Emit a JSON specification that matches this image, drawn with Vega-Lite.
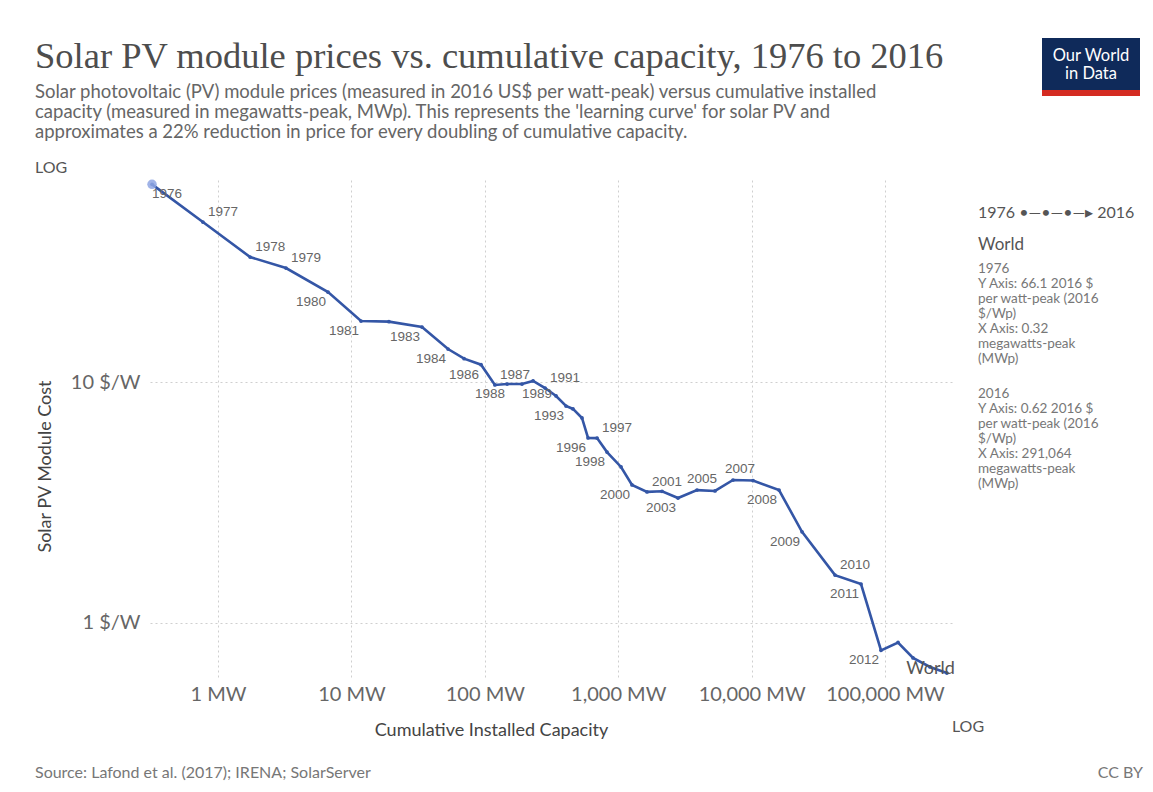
{
  "$schema": "https://vega.github.io/schema/vega-lite/v6.json",
  "width": 805,
  "height": 500,
  "autosize": "none",
  "padding": {"left": 150, "top": 180, "right": 198, "bottom": 112},
  "background": "white",
  "title": {
    "text": "Solar PV module prices vs. cumulative capacity, 1976 to 2016",
    "subtitle": [
      "Solar photovoltaic (PV) module prices (measured in 2016 US$ per watt-peak) versus cumulative installed",
      "capacity (measured in megawatts-peak, MWp). This represents the 'learning curve' for solar PV and",
      "approximates a 22% reduction in price for every doubling of cumulative capacity."
    ],
    "anchor": "start",
    "frame": "bounds",
    "offset": -103,
    "font": "Liberation Serif",
    "fontSize": 36.5,
    "fontWeight": "normal",
    "color": "#4d4d4d",
    "subtitleFont": "Lato",
    "subtitleFontSize": 18.5,
    "subtitleColor": "#666666",
    "subtitleLineHeight": 20,
    "subtitlePadding": 7
  },
  "data": {
    "values": [
      {"Year": 1976, "Capacity": 0.32, "Price": 66.1},
      {"Year": 1977, "Capacity": 0.77, "Price": 46.1},
      {"Year": 1978, "Capacity": 1.74, "Price": 33.0},
      {"Year": 1979, "Capacity": 3.23, "Price": 29.7},
      {"Year": 1980, "Capacity": 6.68, "Price": 23.6},
      {"Year": 1981, "Capacity": 11.8, "Price": 17.9},
      {"Year": 1982, "Capacity": 19.1, "Price": 17.8},
      {"Year": 1983, "Capacity": 33.8, "Price": 16.9},
      {"Year": 1984, "Capacity": 53.0, "Price": 13.7},
      {"Year": 1985, "Capacity": 69.9, "Price": 12.5},
      {"Year": 1986, "Capacity": 93.7, "Price": 11.8},
      {"Year": 1987, "Capacity": 119, "Price": 9.72},
      {"Year": 1988, "Capacity": 147, "Price": 9.81},
      {"Year": 1989, "Capacity": 190, "Price": 9.81},
      {"Year": 1990, "Capacity": 230, "Price": 10.1},
      {"Year": 1991, "Capacity": 283, "Price": 9.44},
      {"Year": 1992, "Capacity": 342, "Price": 8.75},
      {"Year": 1993, "Capacity": 406, "Price": 7.95},
      {"Year": 1994, "Capacity": 458, "Price": 7.73},
      {"Year": 1995, "Capacity": 535, "Price": 7.09},
      {"Year": 1996, "Capacity": 594, "Price": 5.86},
      {"Year": 1997, "Capacity": 694, "Price": 5.85},
      {"Year": 1998, "Capacity": 824, "Price": 5.12},
      {"Year": 1999, "Capacity": 1050, "Price": 4.44},
      {"Year": 2000, "Capacity": 1269, "Price": 3.74},
      {"Year": 2001, "Capacity": 1644, "Price": 3.50},
      {"Year": 2002, "Capacity": 2130, "Price": 3.52},
      {"Year": 2003, "Capacity": 2807, "Price": 3.30},
      {"Year": 2004, "Capacity": 3896, "Price": 3.56},
      {"Year": 2005, "Capacity": 5316, "Price": 3.53},
      {"Year": 2006, "Capacity": 7254, "Price": 3.92},
      {"Year": 2007, "Capacity": 10245, "Price": 3.90},
      {"Year": 2008, "Capacity": 16048, "Price": 3.56},
      {"Year": 2009, "Capacity": 23868, "Price": 2.39},
      {"Year": 2010, "Capacity": 42190, "Price": 1.58},
      {"Year": 2011, "Capacity": 66090, "Price": 1.45},
      {"Year": 2012, "Capacity": 93330, "Price": 0.77},
      {"Year": 2013, "Capacity": 125200, "Price": 0.83},
      {"Year": 2014, "Capacity": 162200, "Price": 0.716},
      {"Year": 2015, "Capacity": 217500, "Price": 0.657},
      {"Year": 2016, "Capacity": 291064, "Price": 0.62}
    ]
  },
  "layer": [
    {
      "encoding": {
        "x": {
          "field": "Capacity",
          "type": "quantitative",
          "scale": {"type": "log", "domain": [0.309, 334700], "nice": false},
          "axis": {
            "values": [1, 10, 100, 1000, 10000, 100000],
            "labelExpr": "format(datum.value, ',') + ' MW'",
            "title": "Cumulative Installed Capacity",
            "labelFlush": false,
            "labelOverlap": false,
            "labelPadding": 4,
            "titleX": 341,
            "titleY": 50,
            "titleAlign": "center",
            "titleBaseline": "middle"
          }
        },
        "y": {
          "field": "Price",
          "type": "quantitative",
          "scale": {"type": "log", "domain": [0.58, 68.9], "nice": false},
          "axis": {
            "values": [1, 10],
            "labelExpr": "datum.value + ' $/W'",
            "title": "Solar PV Module Cost",
            "labelPadding": 10,
            "titleX": -105,
            "titleY": 286,
            "titleAlign": "center",
            "titleBaseline": "middle"
          }
        }
      },
      "layer": [
        {
          "mark": {
            "type": "line",
            "color": "#3456a6",
            "strokeWidth": 2.6,
            "point": {"filled": true, "size": 14, "color": "#3456a6"}
          },
          "encoding": {"order": {"field": "Year", "type": "quantitative"}}
        },
        {
          "transform": [{"filter": "datum.Year == 1976"}],
          "mark": {"type": "circle", "size": 90, "color": "#8fa6e3", "opacity": 0.85}
        },
        {
          "transform": [{"filter": {"field": "Year", "oneOf": [1977, 1978, 1979, 1987, 1991, 1997, 2001, 2010]}}],
          "mark": {"type": "text", "align": "left", "baseline": "middle", "dx": 5, "dy": -10, "font": "Liberation Sans", "fontSize": 13.5, "color": "#666666"},
          "encoding": {"text": {"field": "Year", "type": "nominal"}}
        },
        {
          "transform": [{"filter": {"field": "Year", "oneOf": [1980, 1981, 1983, 1984, 1986, 1988, 1993, 1996, 1998, 2000, 2003, 2008, 2009, 2011, 2012]}}],
          "mark": {"type": "text", "align": "right", "baseline": "middle", "dx": -2, "dy": 10, "font": "Liberation Sans", "fontSize": 13.5, "color": "#666666"},
          "encoding": {"text": {"field": "Year", "type": "nominal"}}
        },
        {
          "transform": [{"filter": {"field": "Year", "oneOf": [2005, 2007]}}],
          "mark": {"type": "text", "align": "right", "baseline": "middle", "dx": 2, "dy": -12, "font": "Liberation Sans", "fontSize": 13.5, "color": "#666666"},
          "encoding": {"text": {"field": "Year", "type": "nominal"}}
        },
        {
          "transform": [{"filter": {"field": "Year", "oneOf": [1976, 1989]}}],
          "mark": {"type": "text", "align": "left", "baseline": "middle", "dx": 0, "dy": 10, "font": "Liberation Sans", "fontSize": 13.5, "color": "#666666"},
          "encoding": {"text": {"field": "Year", "type": "nominal"}}
        },
        {
          "transform": [{"filter": "datum.Year == 2016"}],
          "mark": {"type": "text", "align": "right", "baseline": "middle", "dx": 8, "dy": -4, "font": "Lato", "fontSize": 18, "color": "#555555"},
          "encoding": {"text": {"value": "World"}}
        }
      ]
    },
    {
      "data": {"values": [{}]},
      "layer": [
        {"mark": {"type": "rect", "x": 892, "x2": 990, "y": -142, "y2": -90, "fill": "#0f2a5a"}},
        {"mark": {"type": "rect", "x": 892, "x2": 990, "y": -90, "y2": -84, "fill": "#d42b21"}},
        {"mark": {"type": "text", "x": 941, "y": -124, "text": "Our World", "align": "center", "baseline": "middle", "font": "Lato", "fontSize": 16.5, "color": "white"}},
        {"mark": {"type": "text", "x": 941, "y": -106, "text": "in Data", "align": "center", "baseline": "middle", "font": "Lato", "fontSize": 16.5, "color": "white"}},
        {"mark": {"type": "text", "x": -115, "y": -12, "text": "LOG", "align": "left", "baseline": "middle", "font": "Lato", "fontSize": 16, "color": "#555555"}},
        {"mark": {"type": "text", "x": 818, "y": 547, "text": "LOG", "align": "center", "baseline": "middle", "font": "Lato", "fontSize": 16, "color": "#555555"}},
        {"mark": {"type": "text", "x": -115, "y": 593, "text": "Source: Lafond et al. (2017); IRENA; SolarServer", "align": "left", "baseline": "middle", "font": "Lato", "fontSize": 16, "color": "#777777"}},
        {"mark": {"type": "text", "x": 993, "y": 593, "text": "CC BY", "align": "right", "baseline": "middle", "font": "Lato", "fontSize": 16, "color": "#777777"}},
        {"mark": {"type": "rule", "x": 830, "x2": 980, "y": 8, "y2": 8, "color": "#dddddd", "strokeWidth": 1.5}, "encoding": {}},
        {"mark": {"type": "text", "x": 828, "y": 33, "text": "1976 •—•—•—▸ 2016", "align": "left", "baseline": "middle", "font": "Lato", "fontSize": 16, "color": "#555555"}},
        {"mark": {"type": "text", "x": 828, "y": 65, "text": "World", "align": "left", "baseline": "middle", "font": "Lato", "fontSize": 17, "color": "#555555"}},
        {"mark": {"type": "text", "x": 828, "y": 89, "text": ["1976", "Y Axis: 66.1 2016 $", "per watt-peak (2016", "$/Wp)", "X Axis: 0.32", "megawatts-peak", "(MWp)"], "lineHeight": 15, "align": "left", "baseline": "middle", "font": "Lato", "fontSize": 13.5, "color": "#777777"}},
        {"mark": {"type": "text", "x": 828, "y": 214, "text": ["2016", "Y Axis: 0.62 2016 $", "per watt-peak (2016", "$/Wp)", "X Axis: 291,064", "megawatts-peak", "(MWp)"], "lineHeight": 15, "align": "left", "baseline": "middle", "font": "Lato", "fontSize": 13.5, "color": "#777777"}}
      ]
    }
  ],
  "config": {
    "view": {"stroke": null},
    "axis": {
      "domain": false,
      "ticks": false,
      "grid": true,
      "gridDash": [2, 3],
      "gridColor": "#cfcfcf",
      "labelFont": "Lato",
      "labelFontSize": 20,
      "labelColor": "#666666",
      "titleFont": "Lato",
      "titleFontSize": 18,
      "titleFontWeight": "normal",
      "titleColor": "#444444"
    }
  }
}
